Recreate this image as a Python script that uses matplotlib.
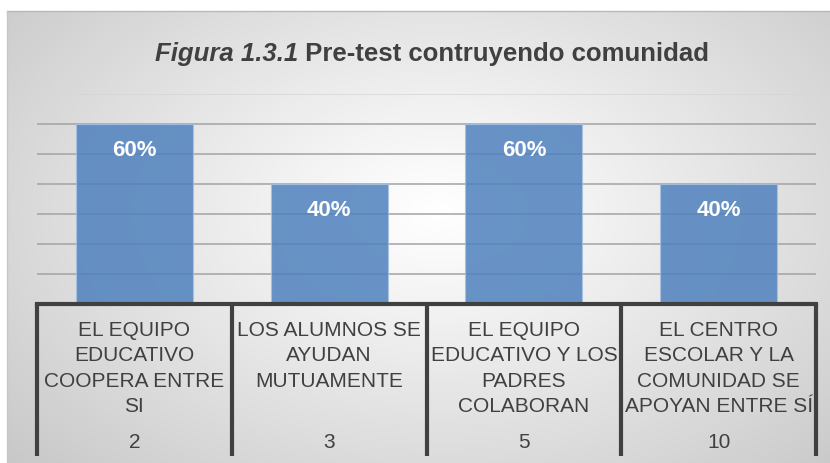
#!/usr/bin/env python3
"""Pre-test bar chart with the category table under the axis."""

import matplotlib

matplotlib.use("Agg")
import matplotlib.pyplot as plt
import numpy as np

categories = [
    "EL EQUIPO\nEDUCATIVO\nCOOPERA ENTRE\nSI",
    "LOS ALUMNOS SE\nAYUDAN\nMUTUAMENTE",
    "EL EQUIPO\nEDUCATIVO Y LOS\nPADRES\nCOLABORAN",
    "EL CENTRO\nESCOLAR Y LA\nCOMUNIDAD SE\nAPOYAN ENTRE SÍ",
]
item_numbers = ["2", "3", "5", "10"]
shares = [0.60, 0.40, 0.60, 0.40]
value_labels = ["60%", "40%", "60%", "40%"]

TITLE_ITALIC = "Figura 1.3.1"
TITLE_REST = " Pre-test contruyendo comunidad"

W, H = 830, 464
plt.rcParams["font.family"] = ["Liberation Sans", "DejaVu Sans"]
TEXT = "#404040"

fig = plt.figure(figsize=(W / 100, H / 100), dpi=100)

# chart area background: radial gray-to-white gradient
bg = fig.add_axes([7 / W, 0, (W - 7) / W, (H - 12) / H])
yy, xx = np.mgrid[0:H - 12, 0:W - 7]
cx, cy = 430.0, 200.0
dist = np.sqrt(((xx - cx) / 470.0) ** 2 + ((yy - cy) / 300.0) ** 2) / np.sqrt(2)
shade = 1.0 - 0.25 * np.clip(dist, 0, 1) ** 1.1
bg.imshow(np.dstack([shade] * 3), aspect="auto", extent=[0, 1, 0, 1])
bg.set_axis_off()
fig.add_artist(plt.Line2D([7 / W, 1], [1 - 12 / H] * 2, color="#b8b8b8", lw=1))
fig.add_artist(plt.Line2D([7 / W] * 2, [0, 1 - 12 / H], color="#c8c8c8", lw=1))

ax = fig.add_axes([37 / W, (H - 305) / H, 779 / W, 210 / H])
ax.patch.set_alpha(0)
x = np.arange(len(shares))
ax.set_xlim(-0.5, len(shares) - 0.5)
ax.set_ylim(0, 0.7)
for level in np.arange(0.1, 0.65, 0.1):
    ax.axhline(level, color="#a3a3a3", lw=1.1, zorder=1)
ax.axhline(0.7, color="#d6d6d6", lw=1.1, zorder=1)

ax.bar(x, shares, width=0.6, color="#4f81bd", alpha=0.85,
       edgecolor="#a9c2e2", linewidth=0.8, zorder=2)
for xi, val, lab in zip(x, shares, value_labels):
    ax.annotate(lab, (xi, val), xytext=(0, -26), textcoords="offset pixels",
                ha="center", va="center", color="white", fontsize=16,
                fontweight="bold", zorder=3)

ax.set_xticks([])
ax.set_yticks([])
for s in ax.spines.values():
    s.set_visible(False)

# table under the axis
trans = ax.get_xaxis_transform()
bottom = -(457 - 305) / 210
ax.plot([-0.5, len(shares) - 0.5], [0, 0], transform=trans, color="#404040",
        lw=3.0, clip_on=False, solid_capstyle="projecting", zorder=4)
for edge in np.arange(-0.5, len(shares), 1.0):
    ax.plot([edge, edge], [0, bottom], transform=trans, color="#404040",
            lw=3.0, clip_on=False, solid_capstyle="butt", zorder=4)
for xi, cat, num in zip(x, categories, item_numbers):
    ax.text(xi, -(321 - 305) / 210, cat, transform=trans, ha="center", va="top",
            fontsize=15, color=TEXT, linespacing=1.42, multialignment="center")
    ax.text(xi, -(443 - 305) / 210, num, transform=trans, ha="center",
            va="center", fontsize=15, color=TEXT)

# title: italic prefix + bold rest, centred as one line
t1 = fig.text(0, 1 - 54 / H, TITLE_ITALIC, fontsize=18.5, fontweight="bold",
              style="italic", color=TEXT, va="center", ha="left")
t2 = fig.text(0, 1 - 54 / H, TITLE_REST, fontsize=18.5, fontweight="bold",
              color=TEXT, va="center", ha="left")
fig.canvas.draw()
r = fig.canvas.get_renderer()
w1 = t1.get_window_extent(r).width
w2 = t2.get_window_extent(r).width
start = 432 - (w1 + w2) / 2
t1.set_x(start / W)
t2.set_x((start + w1) / W)

fig.savefig("out.png", dpi=100)
